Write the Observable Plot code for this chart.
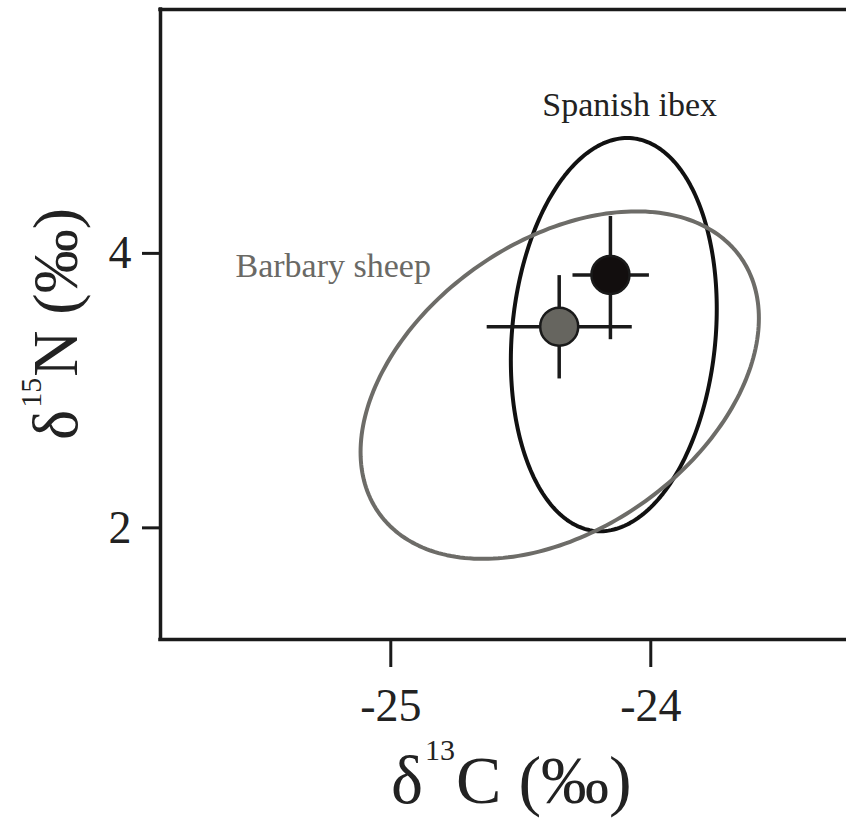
<!DOCTYPE html>
<html>
<head>
<meta charset="utf-8">
<script src="https://cdn.jsdelivr.net/npm/d3@7"></script>
<script src="https://cdn.jsdelivr.net/npm/@observablehq/plot@0.6"></script>
<style>
  html, body { margin: 0; padding: 0; background: #fff; }
  #chart svg { display: block; }
</style>
</head>
<body>
<div id="chart"></div>
<script>
// Axis extents and ticks (δ13C on x, δ15N on y, both in ‰)
const xDomain = [-25.9165, -23.278];
const yDomain = [1.1865, 5.777];
const xTicks = [-25, -24];
const yTicks = [2, 4];

// Groups and their means with error bars
const groups = ["Spanish ibex", "Barbary sheep"];
const meanC = [-24.186, -24.383];
const meanN = [3.843, 3.466];
const cLow = [-24.33, -24.66];
const cHigh = [-24.036, -24.102];
const nLow = [3.371, 3.085];
const nHigh = [4.269, 3.838];

// Standard ellipses: centre, half-widths and correlation
const ellCx = [-24.173, -24.381];
const ellCy = [3.408, 3.040];
const ellSx = [0.396, 0.766];
const ellSy = [1.4326, 1.266];
const ellRho = [0.131, 0.385];

// Group label anchors
const labelX = [-24.448, -25.628];
const labelY = [5.003, 3.825];

const groupFill = ["#120e0e", "#66655f"];
const groupLine = ["#111111", "#6d6c68"];
const labelColor = ["#222222", "#6a6965"];

const groupRows = groups.map((g, i) => ({
  group: g, c: meanC[i], n: meanN[i],
  c1: cLow[i], c2: cHigh[i], n1: nLow[i], n2: nHigh[i],
  fill: groupFill[i], lx: labelX[i], ly: labelY[i], lc: labelColor[i]
}));

// Trace each ellipse outline from its parameters
function ellipsePath(i) {
  const pts = [];
  const k = Math.sqrt(1 - ellRho[i] * ellRho[i]);
  for (let s = 0; s <= 240; s++) {
    const t = (s / 240) * 2 * Math.PI;
    pts.push({
      group: groups[i],
      c: ellCx[i] + ellSx[i] * Math.cos(t),
      n: ellCy[i] + ellSy[i] * (ellRho[i] * Math.cos(t) + k * Math.sin(t))
    });
  }
  return pts;
}

const ink = "#1a1a1a";
const serif = "Liberation Serif";

const chart = Plot.plot({
  width: 846,
  height: 818,
  marginLeft: 160,
  marginRight: 0,
  marginTop: 9,
  marginBottom: 179,
  style: { fontFamily: serif, fontSize: "46px", color: "#222", background: "#fff" },
  x: { domain: xDomain, axis: null },
  y: { domain: yDomain, axis: null },
  marks: [
    // frame: left, bottom and top edges
    Plot.ruleX([xDomain[0]], { stroke: ink, strokeWidth: 3.5, strokeLinecap: "square" }),
    Plot.ruleY([yDomain[0], yDomain[1]], { stroke: ink, strokeWidth: 3.5, strokeLinecap: "square" }),
    Plot.axisX({
      ticks: xTicks, tickSize: 28, tickPadding: 21, strokeWidth: 3, stroke: ink,
      tickFormat: d => `${d}`, dx: -8, label: null, fontSize: 46, fontFamily: serif
    }),
    Plot.axisY({
      ticks: yTicks, tickSize: 18, tickPadding: 11, strokeWidth: 3, stroke: ink,
      tickFormat: d => `${d}`, label: null, fontSize: 46, fontFamily: serif
    }),
    // ellipses
    Plot.line(ellipsePath(0), { x: "c", y: "n", stroke: groupLine[0], strokeWidth: 4 }),
    Plot.line(ellipsePath(1), { x: "c", y: "n", stroke: groupLine[1], strokeWidth: 4 }),
    // error bars
    Plot.ruleY(groupRows, { y: "n", x1: "c1", x2: "c2", stroke: ink, strokeWidth: 3.5 }),
    Plot.ruleX(groupRows, { x: "c", y1: "n1", y2: "n2", stroke: ink, strokeWidth: 3.5 }),
    // means
    Plot.dot(groupRows, { x: "c", y: "n", r: 19, fill: "fill", stroke: ink, strokeWidth: 2.5 }),
    // group labels
    Plot.text(groupRows, {
      x: "lx", y: "ly", text: "group", fill: "lc",
      textAnchor: "start", lineAnchor: "bottom", fontSize: 34, fontFamily: serif
    })
  ]
});

// Axis titles with superscript isotope numbers
const svg = d3.select(chart);
const xt = svg.append("text")
  .attr("x", 391).attr("y", 803)
  .attr("text-anchor", "start")
  .attr("fill", "#222").attr("font-family", serif).attr("font-size", 68);
xt.append("tspan").text("δ");
xt.append("tspan").attr("font-size", 30).attr("dy", -43).attr("dx", 2).text("13");
xt.append("tspan").attr("dy", 43).attr("dx", 1).text("C (‰)");

const yt = svg.append("text")
  .attr("transform", "translate(77,440) rotate(-90)")
  .attr("text-anchor", "start")
  .attr("fill", "#222").attr("font-family", serif).attr("font-size", 64);
yt.append("tspan").text("δ");
yt.append("tspan").attr("font-size", 30).attr("dy", -36).attr("dx", 2).text("15");
yt.append("tspan").attr("dy", 36).attr("dx", 1).text("N (‰)");

document.getElementById("chart").appendChild(chart);
</script>
</body>
</html>
